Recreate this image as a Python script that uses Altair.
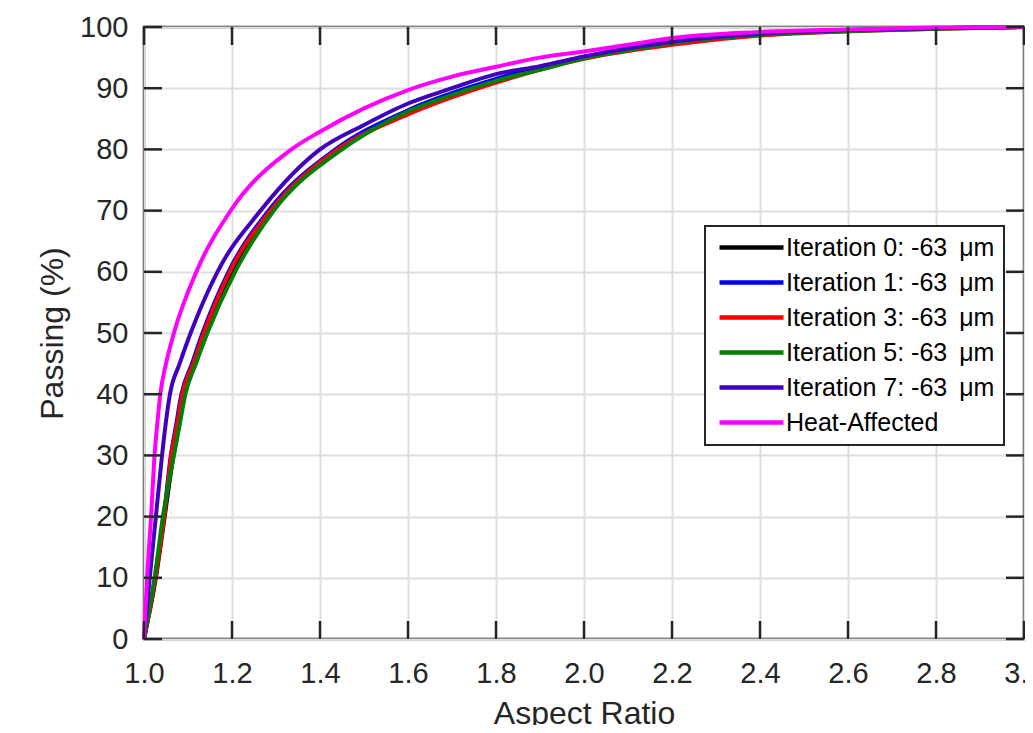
import altair as alt
import pandas as pd

# ---------------- data ----------------
series_names = [
    "Iteration 0: -63\u00a0\u2009\u03bcm",
    "Iteration 1: -63\u00a0\u2009\u03bcm",
    "Iteration 3: -63\u00a0\u2009\u03bcm",
    "Iteration 5: -63\u00a0\u2009\u03bcm",
    "Iteration 7: -63\u00a0\u2009\u03bcm",
    "Heat-Affected",
]
series_colors = ["#000000", "#0000FF", "#FF0000", "#008000", "#4000C0", "#FF00FF"]

it0_x = [1.0, 1.027, 1.047, 1.067, 1.08, 1.092, 1.117, 1.141, 1.203, 1.292, 1.447, 1.6, 1.8, 2.0, 2.2, 2.4, 2.6, 2.8, 3.0]
it0_y = [0, 10, 20, 30, 35, 40, 45, 50, 60, 70, 80, 86.0, 91.1, 95.0, 97.3, 98.7, 99.4, 99.8, 100]

it1_x = [1.0, 1.025, 1.045, 1.061, 1.073, 1.085, 1.109, 1.133, 1.192, 1.283, 1.435, 1.6, 1.8, 2.0, 2.2, 2.4, 2.6, 2.8, 3.0]
it1_y = [0, 10, 20, 30, 35, 40, 45, 50, 60, 70, 80, 86.4, 91.5, 95.1, 97.5, 98.8, 99.4, 99.8, 100]

it3_x = [1.0, 1.026, 1.046, 1.062, 1.075, 1.087, 1.112, 1.136, 1.195, 1.288, 1.44, 1.6, 1.8, 2.0, 2.2, 2.4, 2.6, 2.8, 3.0]
it3_y = [0, 10, 20, 30, 35, 40, 45, 50, 60, 70, 80, 85.7, 90.9, 94.8, 97.1, 98.6, 99.3, 99.7, 100]

it5_x = [1.0, 1.024, 1.043, 1.068, 1.081, 1.094, 1.118, 1.144, 1.207, 1.295, 1.45, 1.5, 1.6, 1.7, 1.8, 1.9, 2.0, 2.1, 2.2, 2.4, 2.6, 2.8, 3.0]
it5_y = [0, 10, 20, 30, 35, 40, 45, 50, 60, 70, 80, 82.4, 86.2, 88.9, 91.2, 93.0, 94.9, 96.2, 97.4, 98.7, 99.3, 99.7, 100]

it7_x = [1.0, 1.013, 1.027, 1.041, 1.049, 1.059, 1.081, 1.106, 1.167, 1.265, 1.40, 1.5, 1.6, 1.7, 1.8, 1.9, 2.0, 2.2, 2.4, 2.6, 2.8, 3.0]
it7_y = [0, 10, 20, 30, 35, 40, 45, 50, 60, 70, 80, 84.0, 87.5, 90.0, 92.3, 93.6, 95.2, 97.6, 98.9, 99.5, 99.8, 100]

heat_x = [1.0, 1.007, 1.016, 1.024, 1.030, 1.037, 1.050, 1.068, 1.119, 1.197, 1.335, 1.4, 1.5, 1.6, 1.7, 1.8, 1.9, 2.0, 2.1, 2.2, 2.4, 2.6, 2.8, 3.0]
heat_y = [0, 10, 20, 30, 35, 40, 45, 50, 60, 70, 80, 82.9, 86.7, 89.7, 91.9, 93.5, 95.0, 96.0, 97.1, 98.2, 99.2, 99.6, 99.9, 100]

x_ticks = [1.0, 1.2, 1.4, 1.6, 1.8, 2.0, 2.2, 2.4, 2.6, 2.8, 3.0]
y_ticks = [0, 10, 20, 30, 40, 50, 60, 70, 80, 90, 100]

# ---------------- build tables ----------------
all_x = [it0_x, it1_x, it3_x, it5_x, it7_x, heat_x]
all_y = [it0_y, it1_y, it3_y, it5_y, it7_y, heat_y]
rows = []
for name, xs, ys in zip(series_names, all_x, all_y):
    for i, (a, b) in enumerate(zip(xs, ys)):
        rows.append({"series": name, "ar": a, "passing": b, "i": i})
df = pd.DataFrame(rows)
xt = pd.DataFrame({"t": x_ticks})
yt = pd.DataFrame({"t": y_ticks})

W, H = 880, 612
FONT = "Liberation Sans"
TXT = "#262626"
TL = 18

xscale = alt.Scale(domain=[1.0, 3.0], nice=False, zero=False)
yscale = alt.Scale(domain=[0, 100], nice=False, zero=False)
cscale = alt.Scale(domain=series_names, range=series_colors)

xaxis = alt.Axis(values=x_ticks, format=".1f", ticks=False, domain=False,
                 labelFontSize=29, labelFont=FONT, labelColor=TXT, labelPadding=20,
                 labelFlush=False, labelOverlap=False,
                 title="Aspect Ratio", titleFontSize=32, titleFont=FONT, titleColor=TXT,
                 titleFontWeight="normal", titleX=W / 2, titleY=84, titleBaseline="alphabetic",
                 gridColor="#dedede", gridWidth=2)
yaxis = alt.Axis(values=y_ticks, format="d", ticks=False, domain=False,
                 labelFontSize=29, labelFont=FONT, labelColor=TXT, labelPadding=16,
                 labelFlush=False, labelOverlap=False,
                 title="Passing (%)", titleFontSize=32, titleFont=FONT, titleColor=TXT,
                 titleFontWeight="normal", titleX=-82, titleY=H / 2, titleAngle=-90,
                 titleAlign="center", titleBaseline="alphabetic",
                 gridColor="#dedede", gridWidth=2)

base_axes = alt.Chart(df).mark_point(opacity=0).encode(
    x=alt.X("ar:Q", scale=xscale, axis=xaxis),
    y=alt.Y("passing:Q", scale=yscale, axis=yaxis),
)

tick_color = TXT
tick_w = 2.5
xb = alt.Chart(xt).mark_rule(color=tick_color, strokeWidth=tick_w).encode(
    x=alt.X("t:Q", scale=xscale), y=alt.value(H), y2=alt.value(H - TL))
xtp = alt.Chart(xt).mark_rule(color=tick_color, strokeWidth=tick_w).encode(
    x=alt.X("t:Q", scale=xscale), y=alt.value(0), y2=alt.value(TL))
yl = alt.Chart(yt).mark_rule(color=tick_color, strokeWidth=tick_w).encode(
    y=alt.Y("t:Q", scale=yscale), x=alt.value(0), x2=alt.value(TL))
yr = alt.Chart(yt).mark_rule(color=tick_color, strokeWidth=tick_w).encode(
    y=alt.Y("t:Q", scale=yscale), x=alt.value(W), x2=alt.value(W - TL))

legend = alt.Legend(orient="none", legendX=561, legendY=199, title=None,
                    symbolType="M-4,0L4,0", symbolSize=256, symbolStrokeWidth=4.5,
                    labelFontSize=25, labelFont=FONT, labelColor="#000000",
                    labelOffset=22, symbolOffset=25, padding=9, rowPadding=9,
                    strokeColor="#262626", fillColor="#ffffff", labelLimit=400)

line_layers = []
for k, name in enumerate(series_names):
    line_layers.append(
        alt.Chart(df).transform_filter(alt.datum.series == name)
        .mark_line(strokeWidth=4, interpolate="monotone")
        .encode(
            x=alt.X("ar:Q", scale=xscale),
            y=alt.Y("passing:Q", scale=yscale),
            color=alt.Color("series:N", scale=cscale, legend=legend),
            order=alt.Order("i:Q"),
        )
    )

chart = alt.layer(base_axes, *line_layers, xb, xtp, yl, yr).properties(
    width=W, height=H,
    autosize=alt.AutoSizeParams(type="none"),
    padding={"left": 136, "top": 19, "right": 1, "bottom": 86},
    background="white",
).configure_view(
    stroke=TXT, strokeWidth=2.5
).configure_legend(
    strokeWidth=2
)

chart.save("out.html", embed_options={"renderer": "svg", "actions": False})
